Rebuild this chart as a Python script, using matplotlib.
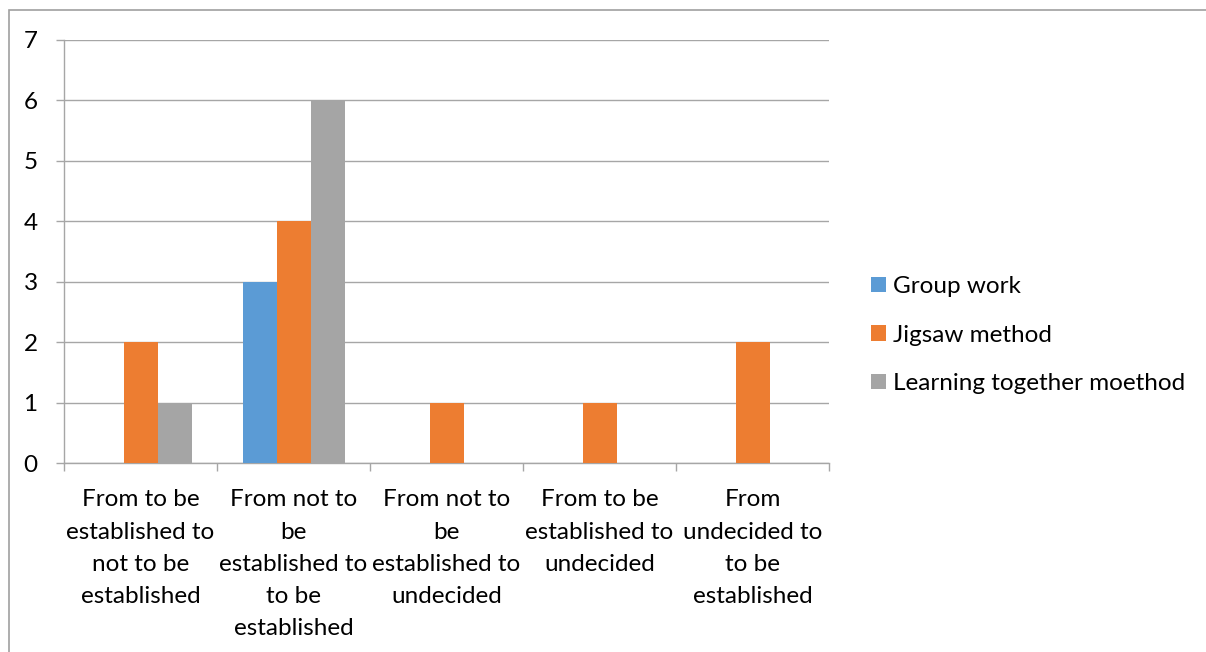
import numpy as np
import matplotlib.pyplot as plt
from matplotlib.patches import Rectangle

plt.rcParams['font.family'] = ['Lato', 'DejaVu Sans']

categories = [
    "From to be\nestablished to\nnot to be\nestablished",
    "From not to\nbe\nestablished to\nto be\nestablished",
    "From not to\nbe\nestablished to\nundecided",
    "From to be\nestablished to\nundecided",
    "From\nundecided to\nto be\nestablished",
]
series_names = ["Group work", "Jigsaw method", "Learning together moethod"]
group_work = [0, 3, 0, 0, 0]
jigsaw = [2, 4, 1, 1, 2]
learning_together = [1, 6, 0, 0, 0]
colors = ["#5B9BD5", "#ED7D31", "#A5A5A5"]

fs = 17.5
W, H = 1206, 652
fig = plt.figure(figsize=(W / 100, H / 100), dpi=100)
ax = fig.add_axes([64 / W, 1 - 463 / H, (829 - 64) / W, (463 - 40) / H])

x = np.arange(len(categories))
bw = 1 / 4.5
for i, (vals, name, c) in enumerate(zip([group_work, jigsaw, learning_together], series_names, colors)):
    ax.bar(x + (i - 1) * bw, vals, width=bw, color=c, label=name, zorder=3)

grid_c = "#A6A6A6"
ax.set_xlim(-0.5, len(categories) - 0.5)
ax.set_ylim(0, 7)
ax.set_yticks(range(8))
ax.yaxis.grid(True, color=grid_c, lw=1, zorder=0)
for s in ["top", "right"]:
    ax.spines[s].set_visible(False)
for s in ["left", "bottom"]:
    ax.spines[s].set_color(grid_c)
    ax.spines[s].set_linewidth(1)

ax.set_xticks(x)
ax.set_xticklabels(categories, fontsize=fs, linespacing=1.66)
ax.set_xticks(np.arange(len(categories) + 1) - 0.5, minor=True)
ax.tick_params(axis="x", which="major", length=0, pad=19)
ax.tick_params(axis="x", which="minor", length=6, color=grid_c, width=1)
ax.tick_params(axis="y", length=6, color=grid_c, width=1, pad=13, labelsize=fs)

leg = fig.legend(loc="center left", bbox_to_anchor=(849 / W, 1 - 335 / H),
                 frameon=False, fontsize=fs, handlelength=0.62, handleheight=0.62,
                 handletextpad=0.3, labelspacing=1.13)

# outer chart border
fig.add_artist(Rectangle((9 / W, -0.05), 1.2, 1 - 10 / H + 0.05, transform=fig.transFigure,
                         fill=False, edgecolor="#A0A0A0", lw=1.2))

fig.savefig("out.png", dpi=100)
